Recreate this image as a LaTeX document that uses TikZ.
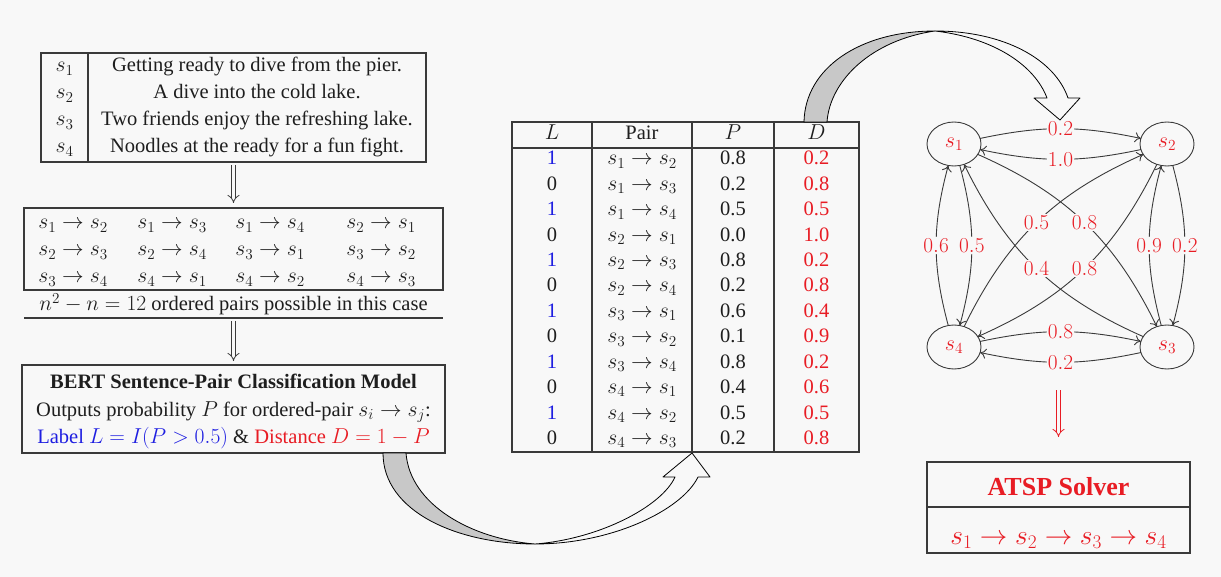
\RequirePackage{fix-cm}
\documentclass[tikz,border=0pt]{standalone}
\usepackage[no-math]{fontspec}
\setmainfont{Liberation Serif}
\usetikzlibrary{arrows.meta,shapes.geometric}
\DeclareMathSizes{20.5}{21.6}{15.2}{11}
\DeclareMathSizes{20}{21.3}{15}{11}
\definecolor{bg}{HTML}{F8F8F8}
\definecolor{ln}{HTML}{3A3A3A}
\definecolor{rd}{RGB}{232,28,36}
\definecolor{bl}{RGB}{30,30,225}
\definecolor{gr}{HTML}{C8C8C8}
\definecolor{tx}{HTML}{1E1E1E}
\begin{document}
\begin{tikzpicture}[x=1pt,y=-1pt,
  every node/.style={inner sep=0pt,outer sep=0pt,text=tx},
  box/.style={draw=ln,line width=1.2pt,rectangle,anchor=north west},
  rule/.style={draw=ln,line width=1.2pt},
  txt/.style={anchor=base,font=\fontsize{20.5}{24}\selectfont},
  big/.style={anchor=base,font=\fontsize{27.5}{32}\selectfont},
  dbl/.style={draw=ln,double=bg,double distance=3.5pt,line width=0.8pt,-{Implies[length=6pt]}},
  gnode/.style={draw=ln,ellipse,line width=0.9pt,minimum width=54pt,minimum height=44pt,font=\fontsize{22}{26}\selectfont,text=rd},
  gedge/.style={draw=ln,line width=0.9pt,-{To[length=6pt,width=10pt]}},
  lbl/.style={fill=bg,inner sep=1.2pt,text=rd,font=\fontsize{20}{24}\selectfont},
  arr/.style={draw=black,line width=0.8pt,line join=round}]
\fill[bg] (0,0) rectangle (1221,577);
\useasboundingbox (0,0) rectangle (1221,577);

% ---------- sentences table ----------
\node[box,minimum width=385pt,minimum height=109pt] (sent) at (41,53) {};
\draw[rule] (88,53) -- (88,162);
\node[txt] (l1) at (64.5,72) {$s_1$};
\node[txt] (l2) at (64.5,99) {$s_2$};
\node[txt] (l3) at (64.5,126) {$s_3$};
\node[txt] (l4) at (64.5,153) {$s_4$};
\node[txt] (t1) at (257,72) {Getting ready to dive from the pier.};
\node[txt] (t2) at (257,99) {A dive into the cold lake.};
\node[txt] (t3) at (257,126) {Two friends enjoy the refreshing lake.};
\node[txt] (t4) at (257,153) {Noodles at the ready for a fun fight.};

% ---------- pairs box ----------
\node[box,minimum width=419pt,minimum height=82pt] (pairs) at (24,208) {};
\foreach \x/\y/\a/\b [count=\k] in {73/229/1/2,172/229/1/3,270/229/1/4,381/229/2/1,
  73/256/2/3,172/256/2/4,270/256/3/1,381/256/3/2,
  73/283/3/4,172/283/4/1,270/283/4/2,381/283/4/3}
  \node[txt] (p\k) at (\x,\y) {$s_\a\rightarrow s_\b$};
\node[txt] (ncount) at (233.5,311) {$n^2-n=12$ ordered pairs possible in this case};
\coordinate (ul) at (233.5,318);
\draw[rule] (24,318) -- (ul) -- (443,318);

% ---------- BERT box ----------
\node[box,minimum width=423pt,minimum height=88pt] (bert) at (22,365) {};
\node[txt] (b1) at (233.5,388) {\textbf{BERT Sentence-Pair Classification Model}};
\node[txt] (b2) at (233.5,416) {Outputs probability $P$ for ordered-pair $s_i\rightarrow s_j$:};
\node[txt] (b3) at (233.5,443) {\textcolor{bl}{Label $L=I(P>0.5)$} \& \textcolor{rd}{Distance $D=1-P$}};

\draw[dbl] ([yshift=-3pt]sent.south) -- ([yshift=5pt]pairs.north);
\draw[dbl] ([yshift=-3pt]ul) -- ([yshift=4pt]bert.north);

% ---------- middle table ----------
\node[box,minimum width=347pt,minimum height=330pt] (tab) at (512,122) {};
\draw[rule] (592,122) -- (592,452);
\draw[rule] (692,122) -- (692,452);
\draw[rule] (774,122) -- (774,452);
\draw[draw=ln,line width=2.2pt] (512,148) -- (859,148);
\node[txt] (hL) at (552,140) {$L$};
\node[txt] (hPair) at (642,140) {Pair};
\node[txt] (hP) at (733,140) {$P$};
\node[txt] (hD) at (816.5,140) {$D$};
\foreach \c/\l/\a/\b/\p/\d [count=\k] in {
  bl/1/1/2/0.8/0.2, tx/0/1/3/0.2/0.8, bl/1/1/4/0.5/0.5, tx/0/2/1/0.0/1.0,
  bl/1/2/3/0.8/0.2, tx/0/2/4/0.2/0.8, bl/1/3/1/0.6/0.4, tx/0/3/2/0.1/0.9,
  bl/1/3/4/0.8/0.2, tx/0/4/1/0.4/0.6, bl/1/4/2/0.5/0.5, tx/0/4/3/0.2/0.8}{
  \pgfmathsetmacro{\yy}{165+25.4*(\k-1)}
  \node[txt,text=\c] (rL\k) at (552,\yy) {\l};
  \node[txt] (rA\k) at (642,\yy) {$s_\a\rightarrow s_\b$};
  \node[txt] (rP\k) at (733,\yy) {\p};
  \node[txt,text=rd] (rD\k) at (816.5,\yy) {\d};
}

% ---------- curved arrow: BERT -> table ----------
\fill[gr,arr] (383,453) .. controls (383,512) and (458,544) .. (535,544)
  .. controls (472,539) and (410,505) .. (406,453) -- cycle;
\filldraw[fill=bg,arr] (535,544) .. controls (612,544) and (682,510) .. (698,477)
  -- (710,477) -- (692,453) -- (663,477) -- (675,477)
  .. controls (662,506) and (600,539) .. (535,544) -- cycle;

% ---------- curved arrow: table -> graph ----------
\fill[gr,arr] (804,122) .. controls (805,68) and (860,31) .. (935,31)
  .. controls (872,40) and (830,80) .. (827,122) -- cycle;
\filldraw[fill=bg,arr] (935,31) .. controls (1005,31) and (1055,60) .. (1068,98)
  -- (1080,98) -- (1060,120) -- (1034,98) -- (1047,98)
  .. controls (1035,66) and (995,38) .. (935,31) -- cycle;

% ---------- graph ----------
\node[gnode] (g1) at (954,144) {$s_1$};
\node[gnode] (g2) at (1167,144) {$s_2$};
\node[gnode] (g4) at (954,347) {$s_4$};
\node[gnode] (g3) at (1167,347) {$s_3$};
\draw[gedge] (g1) to[bend left=12] node[lbl] {$0.2$} (g2);
\draw[gedge] (g2) to[bend left=12] node[lbl] {$1.0$} (g1);
\draw[gedge] (g4) to[bend left=12] node[lbl] {$0.8$} (g3);
\draw[gedge] (g3) to[bend left=12] node[lbl] {$0.2$} (g4);
\draw[gedge] (g4) to[bend left=15] node[lbl] {$0.6$} (g1);
\draw[gedge] (g1) to[bend left=15] node[lbl] {$0.5$} (g4);
\draw[gedge] (g2) to[bend left=15] node[lbl] {$0.2$} (g3);
\draw[gedge] (g3) to[bend left=15] node[lbl] {$0.9$} (g2);
\draw[gedge] (g1) to[bend left=20] node[lbl] {$0.8$} (g3);
\draw[gedge] (g3) to[bend left=20] node[lbl] {$0.4$} (g1);
\draw[gedge] (g4) to[bend left=20] node[lbl] {$0.5$} (g2);
\draw[gedge] (g2) to[bend left=20] node[lbl] {$0.8$} (g4);

% ---------- ATSP ----------
\coordinate (gbot) at (1058.5,390);
\node[box,minimum width=263pt,minimum height=91pt] (atsp) at (927,462) {};
\draw[rule] (927,507) -- (1190,507);
\node[anchor=base,font=\fontsize{26}{30}\selectfont\bfseries,text=rd] (atitle) at (1058.5,495) {ATSP Solver};
\node[big,text=rd] (aseq) at (1058.5,544) {$s_1\rightarrow s_2\rightarrow s_3\rightarrow s_4$};
\draw[dbl,draw=rd] (gbot) -- ([yshift=25pt]atsp.north);
\end{tikzpicture}
\end{document}
